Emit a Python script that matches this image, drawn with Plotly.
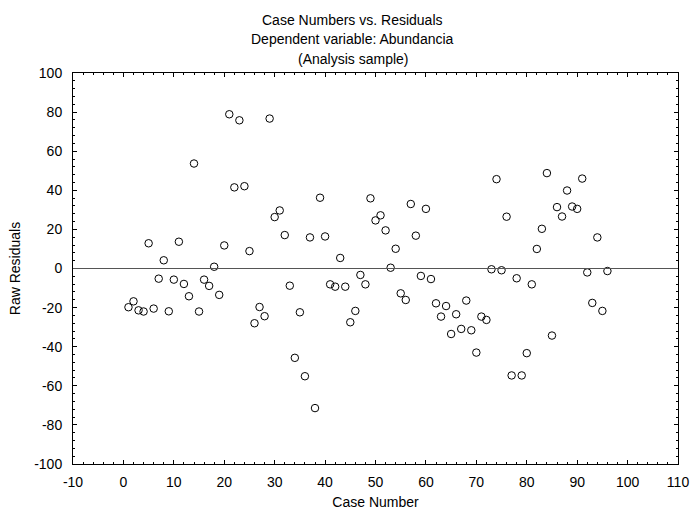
import plotly.graph_objects as go

case_number = list(range(1, 97))
raw_residuals = [
    -19.8, -16.8, -21.4, -22.0, 12.9, -20.5, -5.2, 4.2, -21.9, -5.7,
    13.7, -7.9, -14.2, 53.7, -22.0, -5.7, -8.9, 0.9, -13.5, 11.8,
    78.9, 41.5, 75.8, 42.1, 8.9, -28.0, -19.7, -24.4, 76.7, 26.3,
    29.7, 17.1, -8.8, -45.7, -22.4, -55.1, 15.9, -71.4, 36.2, 16.4,
    -8.1, -9.3, 5.4, -9.3, -27.5, -21.7, -3.3, -8.1, 35.9, 24.6,
    27.2, 19.5, 0.4, 10.1, -12.7, -16.1, 33.0, 16.8, -3.8, 30.5,
    -5.4, -17.8, -24.6, -19.2, -33.5, -23.4, -30.9, -16.4, -31.6, -43.0,
    -24.6, -26.3, -0.4, 45.7, -0.9, 26.5, -54.7, -5.0, -54.7, -43.3,
    -8.1, 10.0, 20.3, 48.8, -34.3, 31.4, 26.6, 39.9, 31.7, 30.5,
    46.0, -2.0, -17.6, 15.9, -21.7, -1.3,
]

x_tick_vals = [-10, 0, 10, 20, 30, 40, 50, 60, 70, 80, 90, 100, 110]
x_tick_text = ["-10", "0", "10", "20", "30", "40", "50", "60", "70", "80", "90", "100", "110"]
y_tick_vals = [-100, -80, -60, -40, -20, 0, 20, 40, 60, 80, 100]
y_tick_text = ["-100", "-80", "-60", "-40", "-20", "0", "20", "40", "60", "80", "100"]

title_lines = ["Case Numbers vs. Residuals", "Dependent variable: Abundancia", "(Analysis sample)"]

font = "Liberation Sans, Arial, sans-serif"
FS = 14

fig = go.Figure()
fig.add_trace(go.Scatter(
    x=case_number, y=raw_residuals, mode="markers",
    marker=dict(symbol="circle-open", size=7.5, color="black", line=dict(width=1, color="black")),
    showlegend=False, hoverinfo="x+y",
))
fig.add_hline(y=0, line=dict(color="#555555", width=1.2))

plot_top, plot_bottom_margin = 73, 49
plot_h = 513 - plot_top - plot_bottom_margin
title_centers_px = [19.5, 39, 58.5]
for line, py in zip(title_lines, title_centers_px):
    fig.add_annotation(
        text=line, xref="paper", yref="paper", x=0.462, y=1 + (plot_top - py) / plot_h,
        xanchor="center", yanchor="middle", showarrow=False,
        font=dict(family=font, size=FS, color="black"),
    )

fig.update_layout(
    width=690, height=513,
    margin=dict(l=73, r=12, t=plot_top, b=plot_bottom_margin, autoexpand=False),
    paper_bgcolor="white", plot_bgcolor="white",
    font=dict(family=font, size=FS, color="black"),
)
fig.update_xaxes(
    range=[-10, 110], tickmode="array", tickvals=x_tick_vals, ticktext=x_tick_text,
    ticks="inside", ticklen=4, tickcolor="black", showline=True, linecolor="black", linewidth=1,
    mirror="allticks", showgrid=False, zeroline=False, ticklabelstandoff=5, automargin=False,
    minor=dict(ticks="inside", dtick=2, tick0=0, ticklen=2, tickcolor="black", showgrid=False),
    title=dict(text="Case Number", font=dict(family=font, size=FS), standoff=8),
    tickfont=dict(family=font, size=FS),
)
fig.update_yaxes(
    range=[-100, 100], tickmode="array", tickvals=y_tick_vals, ticktext=y_tick_text,
    ticks="inside", ticklen=4, tickcolor="black", showline=True, linecolor="black", linewidth=1,
    mirror="allticks", showgrid=False, zeroline=False, ticklabelstandoff=7, automargin=False,
    minor=dict(ticks="inside", dtick=4, tick0=0, ticklen=2, tickcolor="black", showgrid=False),
    title=dict(text="Raw Residuals", font=dict(family=font, size=FS), standoff=10),
    tickfont=dict(family=font, size=FS),
)
fig.write_html("out.html")
